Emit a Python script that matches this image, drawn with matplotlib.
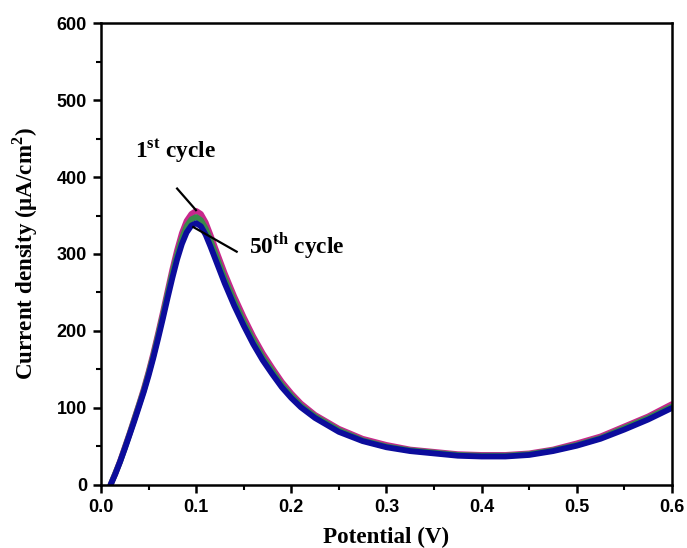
import matplotlib
matplotlib.use('Agg')
import matplotlib.pyplot as plt
from matplotlib.ticker import MultipleLocator

plt.rcParams['mathtext.fontset'] = 'custom'
plt.rcParams['mathtext.rm'] = 'Liberation Serif:bold'
plt.rcParams['mathtext.bf'] = 'Liberation Serif:bold'

# potential (V)
potential = [0.010, 0.015, 0.020, 0.025, 0.030, 0.035, 0.040, 0.045, 0.050, 0.055,
             0.060, 0.065, 0.070, 0.075, 0.080, 0.085, 0.090, 0.095, 0.100, 0.105,
             0.110, 0.115, 0.120, 0.130, 0.140, 0.150, 0.160, 0.170, 0.180, 0.190,
             0.200, 0.210, 0.225, 0.250, 0.275, 0.300, 0.325, 0.350, 0.375, 0.400,
             0.425, 0.450, 0.475, 0.500, 0.525, 0.550, 0.575, 0.600]

# current density (uA/cm2)
cycle_1 = [0, 15, 31, 49, 67, 86, 105, 125, 147, 171,
           197, 224, 252, 280, 305, 327, 343, 352, 356, 352,
           341, 325, 308, 275, 245, 218, 193, 171, 152, 134,
           119, 106, 91, 73, 60, 52, 46, 43, 40, 39,
           39, 41, 46, 54, 63, 76, 89, 105]
cycle_25 = [0, 15, 30, 48, 66, 85, 104, 123, 145, 168,
            194, 220, 248, 275, 299, 320, 336, 345, 348, 344,
            333, 318, 301, 268, 239, 212, 188, 166, 148, 130,
            116, 103, 89, 71, 58, 50, 45, 42, 39, 38,
            38, 40, 45, 52, 61, 74, 87, 102]
cycle_50 = [0, 14, 30, 47, 65, 83, 102, 121, 142, 165,
            190, 216, 243, 269, 293, 313, 328, 337, 340, 336,
            325, 310, 294, 262, 233, 207, 183, 162, 144, 127,
            113, 101, 87, 69, 57, 49, 44, 41, 38, 37,
            37, 39, 44, 51, 60, 72, 85, 100]

curvas = [cycle_1, cycle_25, cycle_50]
colores = ['#c8288c', '#3a8a4a', '#0c0c9c']

fig = plt.figure(figsize=(6.87, 5.48), dpi=100)
ax = fig.add_axes([0.147, 0.115, 0.831, 0.843])

for y, c in zip(curvas, colores):
    ax.plot(potential, y, color=c, lw=4.2, solid_capstyle='round', solid_joinstyle='round')

ax.set_xlim(0, 0.6)
ax.set_ylim(0, 600)
ax.xaxis.set_major_locator(MultipleLocator(0.1))
ax.xaxis.set_minor_locator(MultipleLocator(0.05))
ax.yaxis.set_major_locator(MultipleLocator(100))
ax.yaxis.set_minor_locator(MultipleLocator(50))
ax.tick_params(which='major', direction='out', length=6, width=1.8, labelsize=13, pad=4)
ax.tick_params(which='minor', direction='out', length=3.5, width=1.5)
ax.set_xticklabels([f'{v:.1f}' for v in ax.get_xticks()])
for lab in ax.get_xticklabels() + ax.get_yticklabels():
    lab.set_fontfamily('Liberation Sans')
    lab.set_fontweight('bold')
for s in ax.spines.values():
    s.set_linewidth(1.8)

ax.set_xlabel('Potential (V)', family='Liberation Serif', fontweight='bold', fontsize=16.6, labelpad=8)
ax.set_ylabel(r'Current density (μA/cm$^{2}$)', family='Liberation Serif', fontweight='bold', fontsize=16.6, labelpad=12)

ax.text(0.0357, 425, r'1$^{\mathrm{st}}$ cycle', family='Liberation Serif', fontweight='bold',
        fontsize=16.8, va='baseline')
ax.text(0.1555, 301, r'50$^{\mathrm{th}}$ cycle', family='Liberation Serif', fontweight='bold',
        fontsize=16.8, va='baseline')
ax.plot([0.080, 0.0998], [385, 357], color='black', lw=1.6)
ax.plot([0.097, 0.1426], [335, 303], color='black', lw=1.6)

plt.savefig('out.png', dpi=100)
plt.close()
